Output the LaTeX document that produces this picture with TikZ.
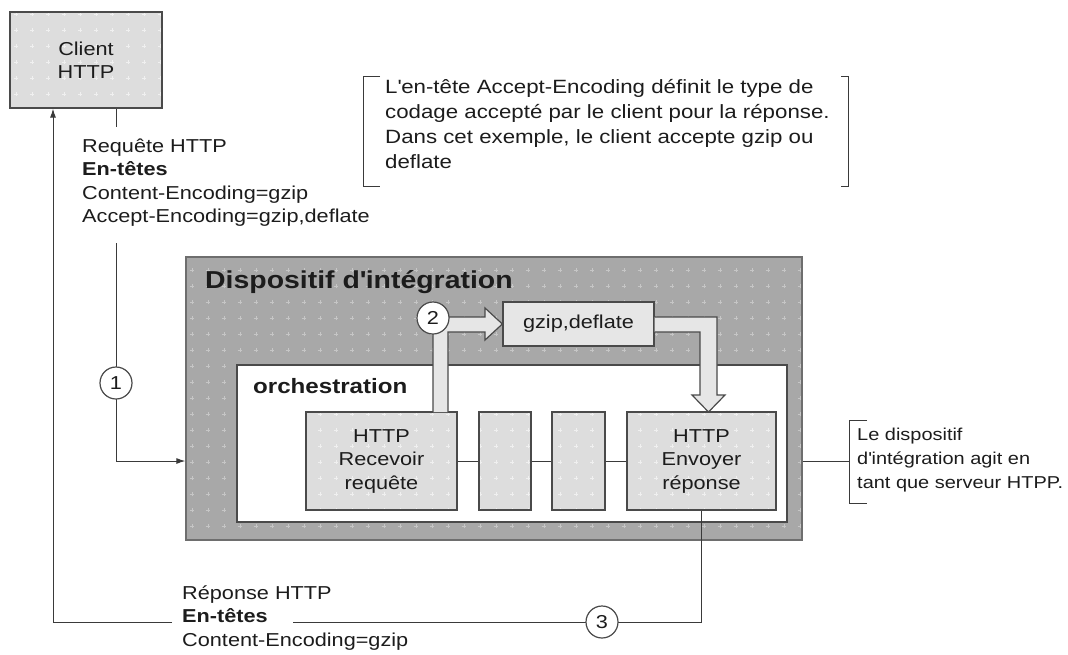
\documentclass[tikz,border=0pt]{standalone}
\usepackage{fontspec}
\setmainfont[FakeStretch=1.16]{Liberation Sans}
\usetikzlibrary{arrows.meta,patterns.meta}

\definecolor{devfill}{HTML}{A8A8A8}
\definecolor{devdot}{HTML}{C6C6C6}
\definecolor{boxfill}{HTML}{DDDDDD}
\definecolor{boxdot}{HTML}{F0F0F0}
\definecolor{gzfill}{HTML}{E6E6E6}
\definecolor{edge}{HTML}{4A4A4A}
\definecolor{ink}{HTML}{1C1C1C}
\definecolor{linec}{HTML}{3A3A3A}

\newcommand\fsnorm{\fontsize{18.7}{23.5}\selectfont}
\newcommand\fsnote{\fontsize{19.2}{25}\selectfont}
\newcommand\fsright{\fontsize{17.2}{24}\selectfont}
\newcommand\ap{\textquotesingle}

\tikzdeclarepattern{
  name=plusgrid,
  type=uncolored,
  bounding box={(-3pt,-3pt) and (3pt,3pt)},
  tile size={(16pt,16pt)},
  code={\draw[line width=0.7pt] (-2.4pt,0pt)--(2.4pt,0pt) (0pt,-2.4pt)--(0pt,2.4pt);}
}

\tikzset{
  gbox/.style={draw=edge, line width=1.3pt, preaction={fill=boxfill}, pattern=plusgrid, pattern color=boxdot,
    inner sep=0pt, align=center, font=\fsnorm, text=ink},
  devbox/.style={draw=edge!80, line width=1.3pt, preaction={fill=devfill}, pattern=plusgrid, pattern color=devdot, inner sep=0pt},
  orchbox/.style={draw=edge, line width=1.3pt, fill=white, inner sep=0pt},
  gzbox/.style={draw=edge, line width=1.3pt, fill=gzfill, inner sep=0pt, font=\fsnorm, text=ink},
  blockarrow/.style={draw=edge, line width=1.2pt, fill=gzfill, line join=miter},
  numc/.style={circle, draw=edge, line width=1.2pt, fill=white, minimum size=32pt, inner sep=0pt, font=\fsnorm, text=ink},
  conn/.style={draw=linec, line width=1pt},
  tip/.style={-{Latex[length=9pt,width=6pt]}},
  bracket/.style={draw=linec, line width=1pt},
  txt/.style={inner sep=0pt, align=left, text=ink, anchor=north west, execute at begin node={\strut}},
}

\begin{document}
\begin{tikzpicture}[x=1pt,y=-1pt]
\useasboundingbox (0,0) rectangle (1068,654);

% main boxes
\node[gbox, minimum width=152pt, minimum height=96pt] (client) at (86,60) {Client\\HTTP};
\node[devbox, minimum width=616pt, minimum height=283pt] (dev) at (494,398.5) {};
\node[font=\fontsize{24.5}{28}\selectfont\bfseries, text=ink, inner sep=0pt, anchor=base west] (devtitle) at (205,288) {Dispositif d\ap intégration};
\node[orchbox, minimum width=550pt, minimum height=157pt] (orch) at (512,443.5) {};
\node[font=\fontsize{20.8}{24}\selectfont\bfseries, text=ink, inner sep=0pt, anchor=base west] (orchtitle) at (253,393) {orchestration};

\node[gbox, minimum width=151pt, minimum height=98pt] (recv) at (381.5,461) {HTTP\\Recevoir\\requête};
\node[gbox, minimum width=52pt, minimum height=98pt] (s1) at (505,461) {};
\node[gbox, minimum width=53pt, minimum height=98pt] (s2) at (578.5,461) {};
\node[gbox, minimum width=149pt, minimum height=98pt] (env) at (701.5,461) {HTTP\\Envoyer\\réponse};

\node[gzbox, minimum width=151pt, minimum height=44pt] (gzip) at (578.5,324) {gzip,deflate};

% block arrows
\draw[blockarrow] (433,412) -- (433,317) -- (485,317) -- (485,308) -- (gzip.west) -- (485,340) -- (485,332) -- (448,332) -- (448,412);
\draw[blockarrow] (gzip.east |- 0,317) -- (717,317) -- (717,395) -- (725,395) -- (708.5,412) -- (692,395) -- (700,395) -- (700,332) -- (gzip.east |- 0,332);
\node[numc] (c2) at (433,318) {2};

% connectors between orchestration steps
\draw[conn] (recv.east) -- (s1.west);
\draw[conn] (s1.east) -- (s2.west);
\draw[conn] (s2.east) -- (env.west);

% request path
\coordinate (reqA) at (116,127);
\coordinate (reqB) at (116,243);
\draw[conn] (client.south -| reqA) -- (reqA);
\draw[conn, tip] (reqB) -- (reqB |- recv) -- (recv -| dev.west);
\node[numc] (c1) at (116,383) {1};
\node[txt, font=\fsnorm] (reqtext) at (82,138.5) {Requête HTTP\\\textbf{En-têtes}\\Content-Encoding=gzip\\Accept-Encoding=gzip,deflate};

% response path
\coordinate (respA) at (293,622);
\coordinate (respB) at (172,622);
\coordinate (retcorner) at (53,622);
\draw[conn] (env.south) -- (env.south |- respA) -- (respA);
\draw[conn, tip] (respB) -- (retcorner) -- (client.south -| retcorner);
\node[numc] (c3) at (602,622) {3};
\node[txt, font=\fsnorm] (resptext) at (182,585.5) {Réponse HTTP\\\textbf{En-têtes}\\Content-Encoding=gzip};

% top note
\draw[bracket] (380,76) -- (363,76) -- (363,186) -- (380,186);
\draw[bracket] (841,76) -- (848,76) -- (848,186) -- (841,186);
\node[txt, font=\fsnote] (note1) at (385,79.5) {L\ap en-tête Accept-Encoding définit le type de\\codage accepté par le client pour la réponse.\\Dans cet exemple, le client accepte gzip ou\\deflate};

% right note
\coordinate (br2) at (849,461);
\draw[conn] (dev.east |- env) -- (br2);
\draw[bracket] (867,420) -- (849,420) -- (849,503) -- (867,503);
\node[txt, font=\fsright] (note2) at (857,428.2) {Le dispositif\\d\ap intégration agit en\\tant que serveur HTPP.};
\end{tikzpicture}
\end{document}
